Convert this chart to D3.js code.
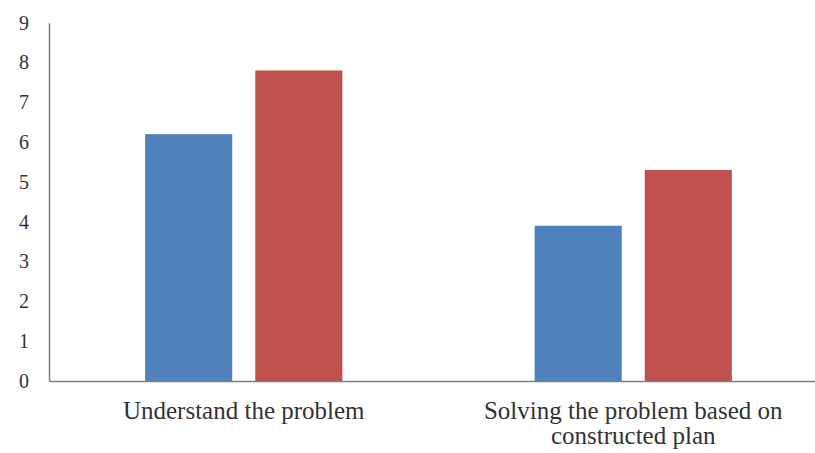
<!DOCTYPE html>
<html>
<head>
<meta charset="utf-8">
<script src="https://cdn.jsdelivr.net/npm/d3@7"></script>
<style>
  html, body { margin: 0; padding: 0; background: #fff; }
  svg { display: block; }
</style>
</head>
<body>
<svg id="chart" width="815" height="453"></svg>
<script>
const categories = [["Understand the problem"], ["Solving the problem based on", "constructed plan"]];
const categoryKeys = ["Understand the problem", "Solving the problem based on constructed plan"];
const seriesNames = ["Series 1", "Series 2"];
const series1 = [6.2, 3.9];
const series2 = [7.8, 5.3];
const yTicks = [0, 1, 2, 3, 4, 5, 6, 7, 8, 9];
const colors = ["#4f81bd", "#c0504d"];

const FONT = "'Liberation Serif', 'DejaVu Serif', serif";
const svg = d3.select("#chart");
const x0 = 49, yBase = 381, yTop = 22.7;

const x = d3.scaleBand().domain(categoryKeys).range([x0, 828]).padding(0);
const xs = d3.scaleBand().domain(seriesNames).range([0, x.bandwidth()])
  .paddingInner(23 / 110).paddingOuter(0.873);
const y = d3.scaleLinear().domain([0, 9]).range([yBase, yTop]);

const rows = categoryKeys.map((c, i) => ({ key: c, values: [series1[i], series2[i]] }));

const g = svg.append("g");
g.selectAll("g.cat").data(rows).join("g")
  .attr("class", "cat")
  .attr("transform", d => `translate(${x(d.key)},0)`)
  .selectAll("rect").data(d => d.values.map((v, j) => ({ s: seriesNames[j], v, j })))
  .join("rect")
  .attr("x", d => xs(d.s))
  .attr("width", xs.bandwidth())
  .attr("y", d => y(d.v))
  .attr("height", d => yBase - y(d.v))
  .attr("fill", d => colors[d.j]);

// Y axis
const yAxis = svg.append("g")
  .attr("transform", `translate(${x0},0)`)
  .call(d3.axisLeft(y).tickValues(yTicks).tickSize(0).tickSizeOuter(0).tickPadding(20).tickFormat(d3.format("d")));
yAxis.attr("font-family", null).attr("font-size", null);
yAxis.select(".domain").attr("stroke", "#7f7f7f").attr("stroke-width", 1.5);
yAxis.selectAll("text")
  .style("font-family", FONT)
  .style("font-size", "20px")
  .style("fill", "#333");

// X axis
const xAxis = svg.append("g")
  .attr("transform", `translate(0,${yBase})`)
  .call(d3.axisBottom(x).tickSize(0).tickSizeOuter(0).tickFormat(""));
xAxis.select(".domain").attr("stroke", "#7f7f7f").attr("stroke-width", 1.5);

// Category labels
const labels = svg.append("g");
categoryKeys.forEach((c, i) => {
  const cx = x(c) + x.bandwidth() / 2;
  const t = labels.append("text")
    .attr("x", cx)
    .attr("y", 418.5)
    .attr("text-anchor", "middle")
    .style("font-family", FONT)
    .style("font-size", "25px")
    .style("fill", "#333");
  categories[i].forEach((line, k) => {
    t.append("tspan")
      .attr("x", cx)
      .attr("dy", k === 0 ? 0 : 25.5)
      .text(line);
  });
});
</script>
</body>
</html>
